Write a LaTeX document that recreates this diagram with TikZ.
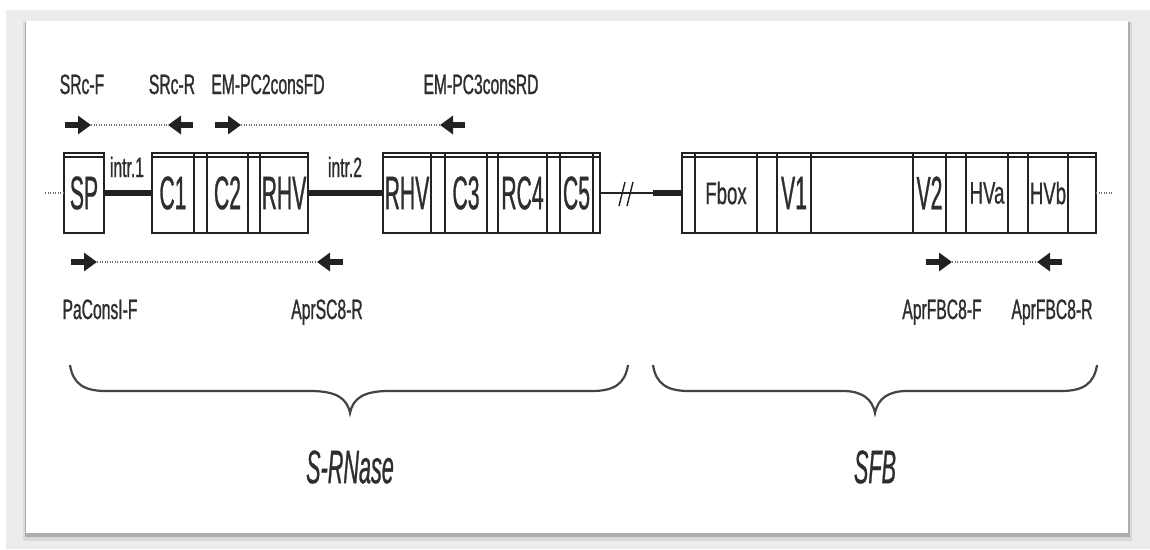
\documentclass[tikz,border=0pt]{standalone}
\usepackage{fontspec}
\usetikzlibrary{arrows.meta}
\newfontfamily\bigf{Liberation Sans}[FakeStretch=0.45,FakeBold=0.6]
\newfontfamily\smallf{Liberation Sans}[FakeStretch=0.6,FakeBold=0.6]
\newfontfamily\labf{Liberation Sans}[FakeStretch=0.56,FakeBold=0.9]
\newfontfamily\bracef{Liberation Sans}[FakeStretch=0.46,FakeBold=0.6]
\definecolor{txt}{HTML}{2E2E2E}
\definecolor{ink}{HTML}{222222}
\definecolor{bggray}{HTML}{ECECEC}
\definecolor{dotgray}{HTML}{6E6E6E}
\tikzset{
  seg/.style={draw=ink, line width=1.5pt, minimum height=80pt, inner sep=0pt, outer sep=0pt,
    text=txt, font=\bigf\fontsize{47}{50}\selectfont},
  segsmall/.style={font=\smallf\fontsize{31}{34}\selectfont},
  intron/.style={draw=ink, line width=6pt},
  thinline/.style={draw=ink, line width=1.5pt},
  dots/.style={draw=dotgray, line width=2pt, dash pattern=on 1.4pt off 1.1pt},
  primer/.style={draw=ink, line width=6pt, -{Triangle[length=13pt,width=18pt]}},
  plabel/.style={text=txt, font=\labf\fontsize{28}{30}\selectfont, anchor=base, inner sep=0pt},
  glabel/.style={text=txt, font=\bracef\itshape\fontsize{47}{50}\selectfont, inner sep=0pt},
  bracestyle/.style={draw=ink!85, line width=2.2pt},
}
\newcommand\seg[5]{%
  \pgfmathsetmacro\segw{#3-#2}\pgfmathsetmacro\segc{(#2+#3)/2}%
  \node[seg,#5,minimum width=\segw pt] (#1) at (\segc,193) {#4};}
\newcommand\gbrace[7]{% xl, lineL-end, xm, lineR-start, xr, name, label
  \draw[bracestyle] (#1,365) .. controls (#1+3,384) and (#1+14,391) .. (#1+36,391)
    -- (#2,391) .. controls (#3-14,391) and (#3-3,398) .. (#3,413)
    .. controls (#3+3,398) and (#3+14,391) .. (#4,391)
    -- (#5-36,391) .. controls (#5-14,391) and (#5-3,384) .. (#5,365);
  \node[glabel] (#6) at (#3,467) {#7};}
\begin{document}
\begin{tikzpicture}[x=1pt,y=-1pt]
\useasboundingbox (0,0) rectangle (1150,549);
\fill[white] (0,0) rectangle (1150,549);
\fill[bggray] (6,10) rectangle (1150,549);
% panel shadow
\fill[black!15] (23,22) rectangle (1132,541);
\fill[black!32] (25,22) rectangle (1130,537);
\fill[white] (26,21) rectangle (1128,533);

% ---- gene segments ----
\seg{sp}{64}{104}{SP}{}
\seg{c1}{152}{194}{C1}{}
\seg{g1}{194}{207}{}{}
\seg{c2}{207}{248}{C2}{}
\seg{g2}{248}{260}{}{}
\seg{rhvA}{260}{308}{RHV}{}
\seg{rhvB}{383}{431}{RHV}{}
\seg{g3}{431}{445}{}{}
\seg{c3}{445}{487}{C3}{}
\seg{g4}{487}{498}{}{}
\seg{rc4}{498}{547}{RC4}{}
\seg{g5}{547}{560}{}{}
\seg{c5}{560}{593}{C5}{}
\seg{g6}{593}{600}{}{}
\seg{f0}{682}{695}{}{}
\seg{fbox}{695}{757}{Fbox}{segsmall}
\seg{f1}{757}{777}{}{}
\seg{v1}{777}{811}{V1}{}
\seg{f2}{811}{913}{}{}
\seg{v2}{913}{946}{V2}{}
\seg{f3}{946}{966}{}{}
\seg{hva}{966}{1008}{HVa}{segsmall}
\seg{f4}{1008}{1028}{}{}
\seg{hvb}{1028}{1068}{HVb}{segsmall}
\seg{f5}{1068}{1096}{}{}
% inner top lines
\draw[thinline,line width=1.2pt] ([yshift=-4pt]sp.north west) -- ([yshift=-4pt]sp.north east);
\draw[thinline,line width=1.2pt] ([yshift=-4pt]c1.north west) -- ([yshift=-4pt]rhvA.north east);
\draw[thinline,line width=1.2pt] ([yshift=-4pt]rhvB.north west) -- ([yshift=-4pt]g6.north east);
\draw[thinline,line width=1.2pt] ([yshift=-4pt]f0.north west) -- ([yshift=-4pt]f5.north east);

% ---- backbone connectors ----
\coordinate (lend) at (45,193);
\coordinate (rend) at (1112,193);
\coordinate (gapA) at (653,193);
\draw[dots] (lend) -- (sp.west);
\draw[intron] (sp.east) -- (c1.west);
\draw[intron] (rhvA.east) -- (rhvB.west);
\draw[thinline] (g6.east) -- (gapA);
\draw[intron] (gapA) -- (f0.west);
\draw[dots] (f5.east) -- (rend);
% break mark
\draw[thinline,line width=1.4pt] (619,206) -- (625,182);
\draw[thinline,line width=1.4pt] (627,206) -- (633,182);
% intron labels
\node[plabel] (i1) at (127,177) {intr.1};
\node[plabel] (i2) at (345,177) {intr.2};

% ---- primers ----
\coordinate (srcFs) at (65,125);  \coordinate (srcFt) at (91,125);
\coordinate (srcRs) at (193,125); \coordinate (srcRt) at (168,125);
\coordinate (emFs) at (215,125);  \coordinate (emFt) at (241,125);
\coordinate (emRs) at (465,125);  \coordinate (emRt) at (440,125);
\coordinate (paFs) at (71,262);   \coordinate (paFt) at (97,262);
\coordinate (apRs) at (343,262);  \coordinate (apRt) at (317,262);
\coordinate (fbFs) at (926,262);  \coordinate (fbFt) at (952,262);
\coordinate (fbRs) at (1062,262); \coordinate (fbRt) at (1037,262);
\draw[dots] (srcFt) -- (srcRt);
\draw[dots] (emFt) -- (emRt);
\draw[dots] (paFt) -- (apRt);
\draw[dots] (fbFt) -- (fbRt);
\draw[primer] (srcFs) -- (srcFt);
\draw[primer] (srcRs) -- (srcRt);
\draw[primer] (emFs) -- (emFt);
\draw[primer] (emRs) -- (emRt);
\draw[primer] (paFs) -- (paFt);
\draw[primer] (apRs) -- (apRt);
\draw[primer] (fbFs) -- (fbFt);
\draw[primer] (fbRs) -- (fbRt);
\node[plabel] (lsrcF) at (82,94) {SRc-F};
\node[plabel] (lsrcR) at (172,94) {SRc-R};
\node[plabel] (lemF) at (268,94) {EM-PC2consFD};
\node[plabel] (lemR) at (481,94) {EM-PC3consRD};
\node[plabel] (lpaF) at (100,319) {PaConsI-F};
\node[plabel] (lapR) at (327,319) {AprSC8-R};
\node[plabel] (lfbF) at (942,319) {AprFBC8-F};
\node[plabel] (lfbR) at (1052,319) {AprFBC8-R};

% ---- braces ----
\gbrace{70}{310}{350}{389}{628}{srnase}{S-RNase}
\gbrace{653}{843}{875}{907}{1097}{sfb}{SFB}
\end{tikzpicture}
\end{document}
